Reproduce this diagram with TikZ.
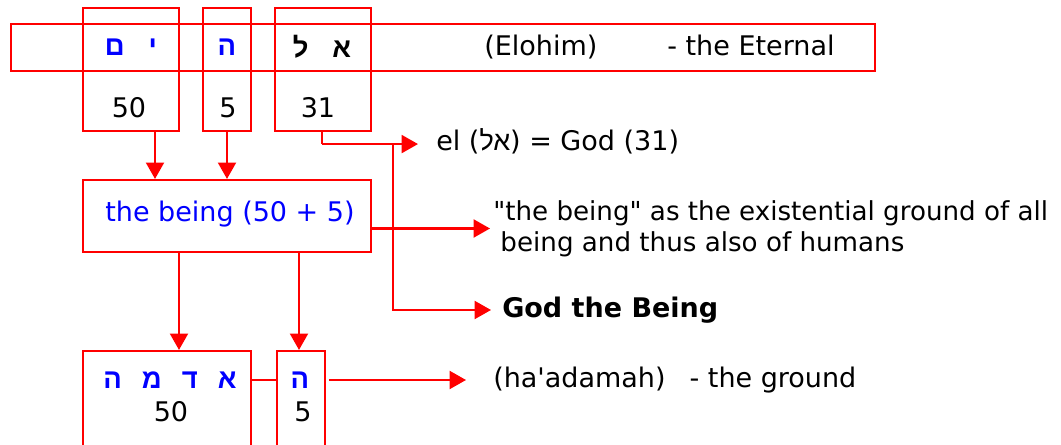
\documentclass[tikz,border=0pt]{standalone}
\usepackage{fontspec}
\usetikzlibrary{arrows.meta}
\newfontfamily\verdana{DejaVu Sans}
\newfontfamily\hebfont[Script=Hebrew]{Liberation Sans}
\TeXXeTstate=1
\definecolor{rojo}{RGB}{255,0,0}
\definecolor{azul}{RGB}{0,0,255}

\begin{document}
\begin{tikzpicture}[
  font=\verdana\fontsize{19.2}{23}\selectfont,
  caja/.style={draw=rojo, line width=1.5pt, inner sep=0pt},
  texto/.style={inner sep=0pt},
  letras/.style={inner sep=0pt, text=azul, font=\hebfont\bfseries\fontsize{19.5}{23}\selectfont},
  flecha/.style={draw=rojo, line width=1.5pt, -{Triangle[length=4.1mm, width=4.5mm]}},
  linea/.style={draw=rojo, line width=1.5pt}]
\useasboundingbox (0,0) rectangle (26.525,-11.125);
\node[caja, minimum width=21.6cm, minimum height=1.175cm] (marco) at (11.075,-1.1875) {};
\node[caja, minimum width=2.4cm, minimum height=3.075cm] (ym) at (3.275,-1.7375) {};
\node[caja, minimum width=1.2cm, minimum height=3.075cm] (he) at (5.675,-1.7375) {};
\node[caja, minimum width=2.4cm, minimum height=3.075cm] (el) at (8.075,-1.7375) {};
\node[caja, minimum width=7.2cm, minimum height=1.8cm] (ser) at (5.675,-5.4) {};
\node[caja, minimum width=4.2cm, minimum height=2.975cm] (adama) at (4.175,-10.2625) {};
\node[caja, minimum width=1.2cm, minimum height=2.975cm] (he2) at (7.525,-10.2625) {};
\node[letras] (ymheb) at (3.275,-1.175) {\beginR י\hspace{0.6cm}ם\endR};
\node[letras] (heheb) at (5.675,-1.175) {\beginR ה\endR};
\node[letras, text=black] (elheb) at (8.05,-1.175) {\beginR א\hspace{0.6cm}ל\endR};
\node[texto] (ymnum) at (3.225,-2.7) {50};
\node[texto] (henum) at (5.7,-2.7) {5};
\node[texto] (elnum) at (7.95,-2.7) {31};
\node[texto, anchor=west] (elohim) at (12.1,-1.175) {(Elohim)\hspace{1.75cm}- the Eternal};
\node[texto, anchor=west] (eltext) at (10.9,-3.525) {el ({\hebfont\beginR אל\endR}) = God (31)};
\node[texto, text=azul] (sertext) at (5.75,-5.35) {the being (50 + 5)};
\node[texto, anchor=west, align=left, font=\verdana\fontsize{18.6}{22}\selectfont] (exist) at (12.325,-5.7125) {"the being" as the existential ground of all\\\hspace{0.18cm}being and thus also of humans};
\node[texto, anchor=west, font=\verdana\bfseries\fontsize{19.2}{23}\selectfont] (dios) at (12.55,-7.75) {God the Being};
\node[letras] (adamaheb) at (4.25,-9.5) {\beginR א\hspace{0.5cm}ד\hspace{0.5cm}מ\hspace{0.5cm}ה\endR};
\node[texto] (adamanum) at (4.275,-10.3) {50};
\node[letras] (he2heb) at (7.5,-9.5) {\beginR ה\endR};
\node[texto] (he2num) at (7.575,-10.3) {5};
\node[texto, anchor=west] (hatext) at (12.325,-9.5) {(ha'adamah)\hspace{0.6cm}- the ground};
\draw[flecha] ([xshift=0.6cm]ym.south) -- ([xshift=0.6cm]ym.south |- ser.north);
\draw[flecha] (he.south) -- (ser.north);
\draw[linea] ([xshift=-0.025cm]el.south) -- ++(0,-0.3) coordinate (codo);
\draw[flecha, shorten >=0.45cm] (codo) -- (codo -| eltext.west);
\coordinate (rama) at ([xshift=1.775cm]codo);
\draw[flecha, shorten >=0.275cm] (rama) |- (dios.west);
\draw[flecha, shorten >=0.075cm] (ser.east |- exist.west) -- (exist.west);
\draw[flecha] ([xshift=-1.2cm]ser.south) -- ([xshift=-1.2cm]ser.south |- adama.north);
\draw[flecha] ([xshift=1.8cm]ser.south) -- ([xshift=1.8cm]ser.south |- he2.north);
\draw[linea] (adama.east |- adamaheb.center) -- (he2.west |- adamaheb.center);
\draw[flecha, shorten <=0.075cm, shorten >=0.675cm] (he2.east |- hatext.west) -- (hatext.west);
\end{tikzpicture}
\end{document}
